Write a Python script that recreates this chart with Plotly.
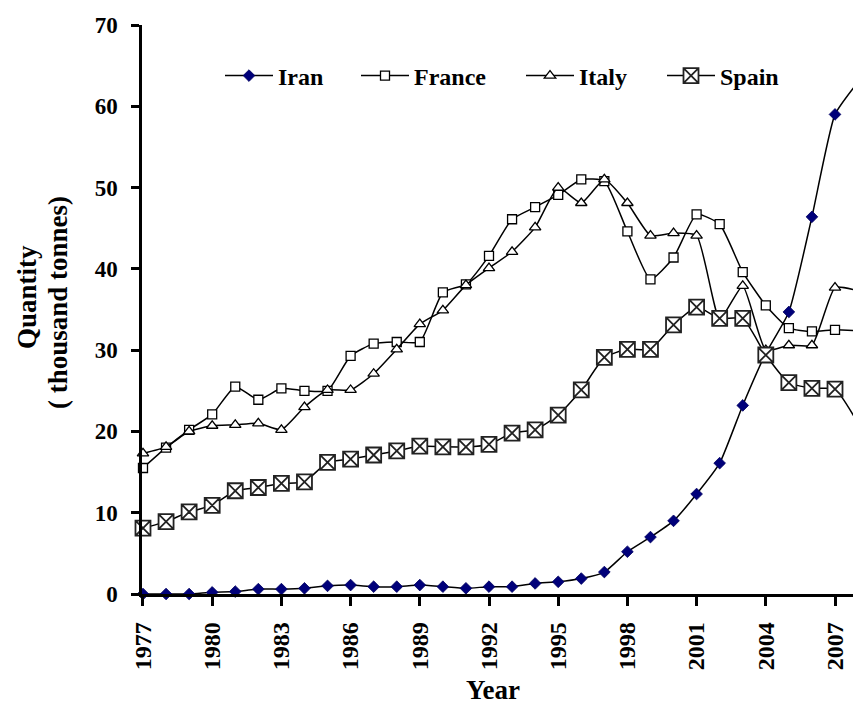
import plotly.graph_objects as go

years = list(range(1977, 2009))

iran = [0.0, 0.0, 0.0, 0.2, 0.3, 0.6, 0.6, 0.7, 1.0, 1.1, 0.9, 0.9, 1.1, 0.9, 0.7, 0.9,
        0.9, 1.3, 1.5, 1.9, 2.7, 5.2, 7.0, 9.0, 12.3, 16.1, 23.2, 29.6, 34.7, 46.4, 59.0, 63.0]
france = [15.5, 18.0, 20.2, 22.1, 25.5, 23.9, 25.3, 25.0, 25.0, 29.3, 30.8, 31.0, 31.0, 37.1, 38.1, 41.6,
          46.1, 47.6, 49.1, 51.0, 50.8, 44.6, 38.7, 41.4, 46.7, 45.5, 39.6, 35.5, 32.7, 32.3, 32.5, 32.4]
italy = [17.3, 18.1, 20.0, 20.7, 20.8, 21.0, 20.2, 23.0, 25.1, 25.1, 27.1, 30.1, 33.2, 34.9, 38.0, 40.1,
         42.1, 45.1, 50.0, 48.1, 51.0, 48.1, 44.1, 44.4, 44.1, 33.8, 37.9, 30.0, 30.6, 30.6, 37.7, 37.3]
spain = [8.1, 8.9, 10.1, 10.9, 12.7, 13.1, 13.6, 13.8, 16.2, 16.6, 17.1, 17.6, 18.2, 18.1, 18.1, 18.4,
         19.8, 20.2, 22.0, 25.1, 29.1, 30.1, 30.1, 33.1, 35.3, 33.9, 33.9, 29.4, 26.0, 25.3, 25.2, 21.0]

series_names = ["Iran", "France", "Italy", "Spain"]
tick_years = list(range(1977, 2008, 3))
y_ticks = list(range(0, 71, 10))

FONT = "Liberation Serif"
W, H = 853, 704
L, R, T, B = 142, 0, 25, 110
PW = W - L - R
PH = H - T - B

fig = go.Figure()

line_style = dict(color="black", width=1.5, shape="spline", smoothing=0.5)

fig.add_trace(go.Scatter(
    x=years, y=iran, name=series_names[0], mode="lines+markers", line=line_style,
    marker=dict(symbol="diamond", size=9, color="#00007a", line=dict(color="#000060", width=0.8)),
    cliponaxis=False, legend="legend"))
fig.add_trace(go.Scatter(
    x=years, y=france, name=series_names[1], mode="lines+markers", line=line_style,
    marker=dict(symbol="square", size=9, color="white", line=dict(color="black", width=1.3)),
    cliponaxis=False, legend="legend2"))
fig.add_trace(go.Scatter(
    x=years, y=italy, name=series_names[2], mode="lines+markers", line=line_style,
    marker=dict(symbol="triangle-up", size=10, color="white", line=dict(color="black", width=1.3)),
    cliponaxis=False, legend="legend3"))
fig.add_trace(go.Scatter(
    x=years, y=spain, name=series_names[3], mode="lines+markers", line=line_style,
    marker=dict(symbol="square-x", size=15, color="white", line=dict(color="#222222", width=1.8)),
    cliponaxis=False, legend="legend4"))

def px_x(p):
    return (p - L) / PW

def px_y(p):
    return (H - B - p) / PH

legend_font = dict(family=FONT, size=24, color="black", weight="bold")
leg_y = px_y(76)
common_leg = dict(y=leg_y, yanchor="middle", xanchor="left", font=legend_font,
                  bgcolor="rgba(0,0,0,0)", borderwidth=0, orientation="h", itemwidth=48)

title_font = dict(family=FONT, size=27, color="black", weight="bold")

fig.update_layout(
    width=W, height=H,
    margin=dict(l=L, r=R, t=T, b=B),
    paper_bgcolor="white", plot_bgcolor="white",
    showlegend=True,
    legend=dict(x=px_x(220), **common_leg),
    legend2=dict(x=px_x(356), **common_leg),
    legend3=dict(x=px_x(521), **common_leg),
    legend4=dict(x=px_x(662), **common_leg),
    xaxis=dict(
        range=[1976.957, 2007.78], tickmode="array", tickvals=tick_years,
        ticktext=[str(y) for y in tick_years], tickangle=-90,
        ticks="outside", ticklen=9, tickwidth=2.5, tickcolor="black",
        ticklabelstandoff=7,
        showline=True, linecolor="black", linewidth=2.5,
        showgrid=False, zeroline=False,
        tickfont=dict(family=FONT, size=24, color="black", weight="bold"),
    ),
    yaxis=dict(
        range=[0, 70], tickmode="array", tickvals=y_ticks,
        ticks="outside", ticklen=8, tickwidth=2.5, tickcolor="black",
        ticklabelstandoff=9,
        showline=True, linecolor="black", linewidth=2.5,
        showgrid=False, zeroline=False,
        tickfont=dict(family=FONT, size=23, color="black", weight="bold"),
    ),
    annotations=[
        dict(text="Year", xref="paper", yref="paper", x=px_x(493), y=px_y(690),
             xanchor="center", yanchor="middle", showarrow=False, font=title_font),
        dict(text="Quantity", xref="paper", yref="paper",
             x=px_x(27), y=px_y(297), xanchor="center", yanchor="middle", showarrow=False,
             textangle=-90, font=title_font),
        dict(text="( thousand tonnes)", xref="paper", yref="paper",
             x=px_x(58), y=px_y(303), xanchor="center", yanchor="middle", showarrow=False,
             textangle=-90, font=title_font),
    ],
)

fig.write_html("out.html", config={"displayModeBar": False},
               post_script="document.body.style.margin='0';document.body.style.overflow='hidden';")
